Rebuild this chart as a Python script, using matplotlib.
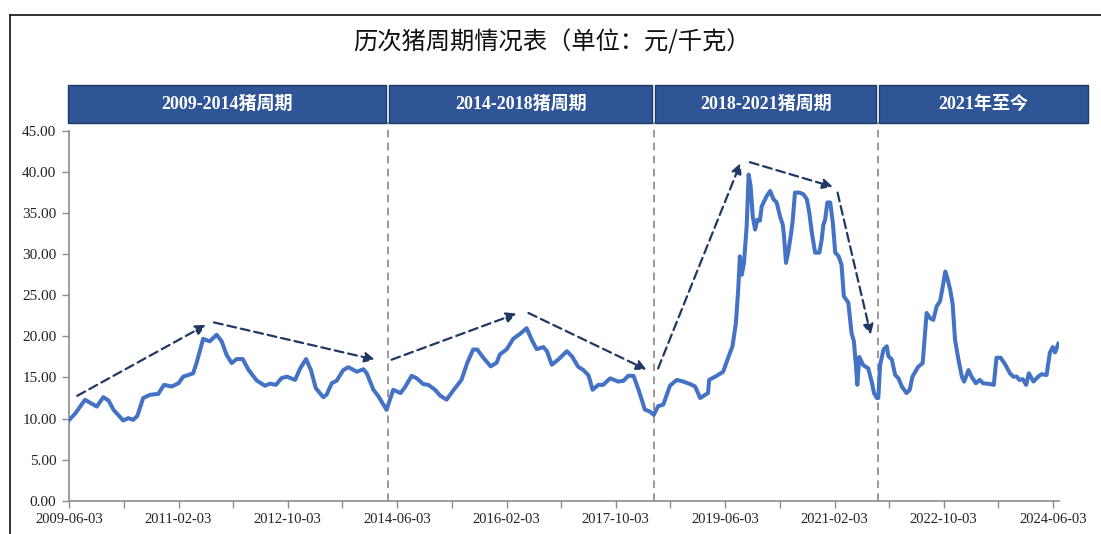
import matplotlib
matplotlib.use("Agg")
import matplotlib.pyplot as plt
import matplotlib.dates as mdates
from matplotlib.patches import Rectangle
from matplotlib.lines import Line2D
import pandas as pd

# ---------------- data ----------------
dates = [
    "2009-06-03", "2009-07-06", "2009-08-31", "2009-11-05", "2009-12-11", "2010-01-09", "2010-02-06",
    "2010-04-01", "2010-04-29", "2010-05-26", "2010-06-18", "2010-07-21", "2010-08-28", "2010-10-13",
    "2010-11-14", "2010-12-27", "2011-02-03", "2011-03-01", "2011-04-25", "2011-05-14", "2011-06-20",
    "2011-07-27", "2011-09-03", "2011-10-01", "2011-10-28", "2011-11-26", "2011-12-23", "2012-01-26",
    "2012-02-27", "2012-04-13", "2012-05-29", "2012-06-26", "2012-07-29", "2012-08-30", "2012-09-28",
    "2012-11-13", "2012-12-11", "2013-01-13", "2013-02-09", "2013-03-08", "2013-04-19", "2013-05-07",
    "2013-06-05", "2013-07-02", "2013-08-08", "2013-09-06", "2013-10-22", "2013-11-28", "2013-12-17",
    "2014-01-23", "2014-02-20", "2014-04-06",
    "2014-05-13", "2014-06-23", "2014-07-17", "2014-08-24", "2014-09-21", "2014-10-27", "2014-11-25",
    "2015-01-01", "2015-01-29", "2015-03-06", "2015-04-12", "2015-05-28", "2015-06-29", "2015-08-01",
    "2015-08-24", "2015-09-27", "2015-11-07", "2015-12-10", "2015-12-28", "2016-02-05", "2016-03-11",
    "2016-04-18", "2016-05-25", "2016-06-22", "2016-07-20", "2016-08-26", "2016-09-15", "2016-10-12",
    "2016-11-18", "2017-01-04", "2017-02-02", "2017-03-08", "2017-04-06", "2017-05-03", "2017-05-12",
    "2017-05-27", "2017-06-28", "2017-07-25", "2017-09-02", "2017-10-17", "2017-11-15", "2017-12-12",
    "2018-01-10", "2018-02-07", "2018-03-14", "2018-04-11", "2018-05-03", "2018-05-27", "2018-06-25",
    "2018-08-01", "2018-09-08", "2018-10-14", "2018-11-21", "2018-12-19", "2019-01-16", "2019-03-01",
    "2019-03-07", "2019-04-18", "2019-05-24", "2019-06-21", "2019-07-15", "2019-08-03", "2019-08-16",
    "2019-08-25", "2019-09-05", "2019-09-17", "2019-10-02", "2019-10-13", "2019-10-24", "2019-11-05",
    "2019-11-18", "2019-12-01", "2019-12-15", "2019-12-25", "2020-01-22", "2020-02-10", "2020-02-28",
    "2020-03-17", "2020-04-05", "2020-04-20", "2020-04-27", "2020-05-08", "2020-05-20", "2020-06-03",
    "2020-06-14", "2020-06-27", "2020-07-21", "2020-08-13", "2020-09-01", "2020-09-15", "2020-09-29",
    "2020-10-17", "2020-11-10", "2020-11-23", "2020-12-02", "2020-12-12", "2020-12-24", "2021-01-09",
    "2021-01-24", "2021-02-06", "2021-02-25", "2021-03-13", "2021-03-26", "2021-04-20", "2021-05-08",
    "2021-05-21", "2021-06-02", "2021-06-09", "2021-06-20", "2021-07-12", "2021-08-09", "2021-08-28",
    "2021-09-10", "2021-09-26", "2021-10-04",
    "2021-10-14", "2021-11-02", "2021-11-20", "2021-11-29", "2021-12-18", "2022-01-06", "2022-01-24",
    "2022-02-12", "2022-03-10", "2022-03-28", "2022-04-12", "2022-05-14", "2022-06-08", "2022-06-21",
    "2022-06-30", "2022-07-18", "2022-08-06", "2022-08-25", "2022-09-13", "2022-09-28", "2022-10-12",
    "2022-10-23", "2022-11-08", "2022-11-22", "2022-12-05", "2022-12-24", "2023-01-12", "2023-01-25",
    "2023-02-18", "2023-03-07", "2023-03-31", "2023-04-22", "2023-05-10", "2023-06-17", "2023-07-09",
    "2023-07-24", "2023-08-16", "2023-09-10", "2023-10-07", "2023-10-25", "2023-11-14", "2023-11-28",
    "2023-12-17", "2024-01-05", "2024-01-20", "2024-02-15", "2024-03-12", "2024-03-31", "2024-04-28",
    "2024-05-16", "2024-06-01", "2024-06-14", "2024-07-02",
]
prices = [
    9.8, 10.57, 12.28, 11.46, 12.6, 12.2, 11.06,
    9.76, 10.05, 9.84, 10.3, 12.5, 12.89, 13.0,
    14.1, 13.9, 14.3, 15.1, 15.5, 16.75, 19.7,
    19.4, 20.2, 19.4, 17.77, 16.75, 17.24, 17.24,
    15.94, 14.63, 14.0, 14.25, 14.1, 14.93, 15.1,
    14.7, 16.1, 17.24, 15.9, 13.7, 12.6, 12.9,
    14.3, 14.6, 15.9, 16.25, 15.7, 16.0, 15.5,
    13.5, 12.7, 11.06,
    13.5, 13.1, 13.8, 15.2, 14.9, 14.2, 14.1,
    13.5, 12.8, 12.3, 13.4, 14.7, 16.75, 18.4,
    18.4, 17.4, 16.35, 16.8, 17.8, 18.45, 19.7,
    20.3, 21.0, 19.6, 18.45, 18.7, 18.2, 16.55,
    17.2, 18.2, 17.55, 16.3, 15.9, 15.3, 14.7,
    13.5, 14.1, 14.1, 14.9, 14.5, 14.6, 15.2,
    15.2, 13.5, 11.1, 10.85, 10.45, 11.5, 11.7,
    14.0, 14.7, 14.5, 14.2, 13.9, 12.5, 13.1,
    14.7, 15.2, 15.7, 17.4, 18.8, 21.6, 25.7,
    29.75, 27.5, 28.95, 33.4, 39.7, 38.3, 34.6,
    33.0, 34.2, 34.1, 35.85, 37.1, 37.7, 36.7,
    36.3, 34.6, 33.6, 32.2, 28.95, 30.2, 32.2,
    34.0, 37.5, 37.5, 37.3, 36.7, 35.0, 32.6,
    30.2, 30.2, 31.8, 33.6, 34.2, 36.3, 36.3,
    33.8, 30.2, 29.75, 28.75, 24.9, 24.1, 20.4,
    19.4, 16.3, 14.1, 17.5, 16.5, 16.1, 14.5,
    13.1, 12.5, 12.5,
    16.5, 18.4, 18.8, 17.6, 17.2, 15.3, 14.9,
    13.9, 13.1, 13.5, 15.1, 16.3, 16.75, 20.4,
    22.85, 22.25, 22.0, 23.66, 24.3, 26.1, 27.9,
    27.1, 25.7, 23.9, 19.6, 17.2, 15.1, 14.5,
    15.9, 15.1, 14.3, 14.7, 14.3, 14.2, 14.1,
    17.4, 17.4, 16.6, 15.5, 15.1, 15.1, 14.7,
    14.8, 14.1, 15.5, 14.5, 15.1, 15.4, 15.3,
    18.0, 18.7, 18.05, 19.1,
]

cycle_labels = ["2009-2014猪周期", "2014-2018猪周期", "2018-2021猪周期", "2021年至今"]
cycle_bounds = ["2009-06-03", "2014-04-13", "2018-05-03", "2021-09-30", "2024-12-23"]

# trend arrows: (start date, start value, end date, end value)
arrow_start_dates = ["2009-07-19", "2011-08-19", "2014-05-04", "2016-06-04", "2018-05-27", "2019-10-20", "2021-02-19"]
arrow_start_vals = [12.77, 21.7, 17.16, 22.85, 16.1, 41.2, 37.5]
arrow_end_dates = ["2011-07-05", "2014-02-01", "2016-03-30", "2018-03-24", "2019-08-29", "2021-01-24", "2021-08-23"]
arrow_end_vals = [21.4, 17.16, 22.77, 15.94, 41.1, 38.2, 20.2]

title = "历次猪周期情况表（单位：元/千克）"
y_ticks = [0, 5, 10, 15, 20, 25, 30, 35, 40, 45]

# ---------------- figure ----------------
W, H = 1101, 534
fig = plt.figure(figsize=(W / 100, H / 100), dpi=100)
fig.patch.set_facecolor("white")

ax = fig.add_axes([69 / W, (H - 500.7) / H, (1059 - 69) / W, (500.7 - 131) / H])
x = pd.to_datetime(dates)
ax.plot(x, prices, color="#4472C4", lw=2.9, solid_joinstyle="round", zorder=3)

major = pd.date_range("2009-06-03", periods=10, freq=pd.DateOffset(months=20))
minor = pd.date_range("2010-04-03", periods=9, freq=pd.DateOffset(months=20))
ax.set_xticks(major)
ax.set_xticks(minor, minor=True)
ax.xaxis.set_major_formatter(mdates.DateFormatter("%Y-%m-%d"))
ax.set_xlim(pd.Timestamp("2009-06-03"), pd.Timestamp("2024-07-06"))

ax.set_yticks(y_ticks)
ax.set_yticklabels([f"{v:.2f}" for v in y_ticks])
ax.set_ylim(0, 45)

for s in ["top", "right"]:
    ax.spines[s].set_visible(False)
for s in ["left", "bottom"]:
    ax.spines[s].set_color("#8C8C8C")
    ax.spines[s].set_linewidth(1.2)

serif = ["Liberation Serif", "Noto Sans CJK SC"]
ax.tick_params(axis="both", which="both", colors="#8C8C8C", width=1.0)
ax.tick_params(axis="y", length=5, pad=4, labelsize=11, labelcolor="#222222")
ax.tick_params(axis="x", which="major", length=5, pad=4, labelsize=10.5, labelcolor="#222222")
ax.tick_params(axis="x", which="minor", length=5)
for lab in ax.get_xticklabels() + ax.get_yticklabels():
    lab.set_family(serif)

# cycle boundaries: dashed vertical lines + header boxes
bt = ax.get_xaxis_transform()
bounds = pd.to_datetime(cycle_bounds)
for b in bounds[1:-1]:
    ax.add_line(Line2D([b, b], [0, 1.0235], transform=bt, color="#7F7F7F", lw=1.1,
                       linestyle=(0, (5, 3.5)), clip_on=False, zorder=2))

gap = pd.Timedelta(days=9)
for i, lab in enumerate(cycle_labels):
    left = bounds[i] + (gap if i > 0 else pd.Timedelta(days=-3))
    right = bounds[i + 1] - gap
    l = mdates.date2num(left)
    r = mdates.date2num(right)
    ax.add_patch(Rectangle((l, 1.0225), r - l, 0.102, transform=bt, facecolor="#2F5597",
                           edgecolor="#1F3864", lw=1.0, clip_on=False, zorder=4))
    ax.text((l + r) / 2, 1.0225 + 0.051, lab, transform=bt, ha="center", va="center",
            color="white", fontsize=13, fontweight="bold", family=serif, zorder=5)

# trend arrows
for sd, sv, ed, ev in zip(arrow_start_dates, arrow_start_vals, arrow_end_dates, arrow_end_vals):
    ax.annotate("", xy=(pd.Timestamp(ed), ev), xytext=(pd.Timestamp(sd), sv),
                arrowprops=dict(arrowstyle="-|>,head_length=0.6,head_width=0.3", color="#203864",
                                lw=1.6, linestyle=(0, (4, 2.2)), shrinkA=0, shrinkB=0),
                annotation_clip=False, zorder=5)

# title
fig.text(552 / W, (H - 43) / H, title, ha="center", va="center", fontsize=17.5,
         family=["Noto Sans CJK SC", "DejaVu Sans"], color="#111111")

# outer frame (top and left edges visible)
fig.add_artist(Line2D([10 / W, 1.0], [(H - 15) / H, (H - 15) / H], transform=fig.transFigure,
                      color="#222222", lw=1.3))
fig.add_artist(Line2D([10 / W, 10 / W], [0, (H - 15) / H], transform=fig.transFigure,
                      color="#222222", lw=1.3))

fig.savefig("out.png", dpi=100, facecolor="white")
